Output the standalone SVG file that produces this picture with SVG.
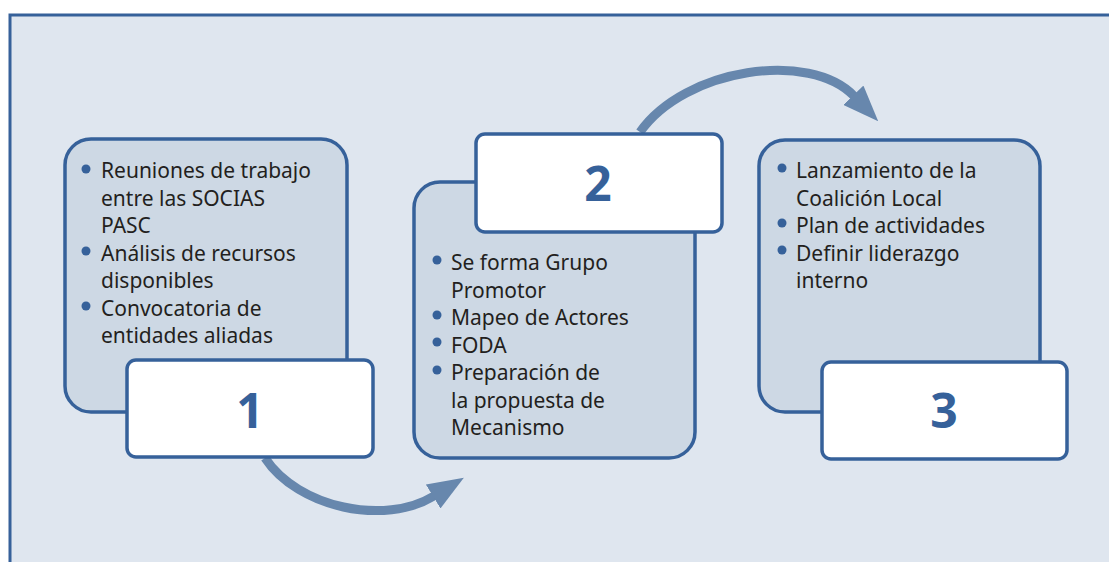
<svg xmlns="http://www.w3.org/2000/svg" width="1109" height="562" viewBox="0 0 1109 562">
<style>
.bg{fill:#dfe6ef;stroke:#36619a;stroke-width:3}
.card{fill:#cdd8e4;stroke:#36619a;stroke-width:3.5}
.tag{fill:#ffffff;stroke:#36619a;stroke-width:3.5}
.num{font-family:"Noto Sans","Open Sans",sans-serif;font-weight:bold;font-size:48px;fill:#36619a;text-anchor:middle}
.t{font-family:"Noto Sans","Open Sans",sans-serif;font-size:21px;fill:#231f20}
.dot{fill:#36619a}
.arr{fill:none;stroke:#6787ad;stroke-width:9}
</style>
<defs>
<marker id="head" markerUnits="userSpaceOnUse" markerWidth="36" markerHeight="28" viewBox="0 0 36 28" refX="1" refY="14" orient="auto">
<path d="M0 0 L36 14 L0 28 z" fill="#6787ad"/>
</marker>
</defs>
<rect x="0" y="0" width="1109" height="562" fill="#ffffff"/>
<rect class="bg" x="10" y="15" width="1120" height="570"/>
<g id="connectors">
<path class="arr" d="M265 458 C298 508 385 526 434 496" marker-end="url(#head)"/>
<path class="arr" d="M640 132 C685 68 810 50 854 96" marker-end="url(#head)"/>
</g>
<g id="step1">
<rect class="card" x="65" y="139" width="282" height="273" rx="26"/>
<circle class="dot" cx="86" cy="169" r="4.5"/>
<circle class="dot" cx="86" cy="251" r="4.5"/>
<circle class="dot" cx="86" cy="306" r="4.5"/>
<text class="t" x="101" y="178">Reuniones de trabajo</text>
<text class="t" x="101" y="205.5">entre las SOCIAS</text>
<text class="t" x="101" y="233">PASC</text>
<text class="t" x="101" y="260.5">Análisis de recursos</text>
<text class="t" x="101" y="288">disponibles</text>
<text class="t" x="101" y="315.5">Convocatoria de</text>
<text class="t" x="101" y="343">entidades aliadas</text>
<rect class="tag" x="127" y="360" width="246" height="97" rx="9"/>
<text class="num" x="250" y="428">1</text>
</g>
<g id="step2">
<rect class="card" x="414" y="182" width="281" height="276" rx="26"/>
<rect class="tag" x="476" y="134" width="246" height="98" rx="9"/>
<text class="num" x="598" y="201">2</text>
<circle class="dot" cx="437" cy="260" r="4.5"/>
<circle class="dot" cx="437" cy="315" r="4.5"/>
<circle class="dot" cx="437" cy="342" r="4.5"/>
<circle class="dot" cx="437" cy="370" r="4.5"/>
<text class="t" x="451" y="270">Se forma Grupo</text>
<text class="t" x="451" y="297.5">Promotor</text>
<text class="t" x="451" y="325">Mapeo de Actores</text>
<text class="t" x="451" y="352.5">FODA</text>
<text class="t" x="451" y="380">Preparación de</text>
<text class="t" x="451" y="407.5">la propuesta de</text>
<text class="t" x="451" y="435">Mecanismo</text>
</g>
<g id="step3">
<rect class="card" x="759" y="140" width="281" height="272" rx="26"/>
<circle class="dot" cx="782" cy="168" r="4.5"/>
<circle class="dot" cx="782" cy="223" r="4.5"/>
<circle class="dot" cx="782" cy="250" r="4.5"/>
<text class="t" x="796" y="178">Lanzamiento de la</text>
<text class="t" x="796" y="205.5">Coalición Local</text>
<text class="t" x="796" y="233">Plan de actividades</text>
<text class="t" x="796" y="260.5">Definir liderazgo</text>
<text class="t" x="796" y="288">interno</text>
<rect class="tag" x="822" y="362" width="245" height="97" rx="9"/>
<text class="num" x="944" y="428">3</text>
</g>
</svg>
